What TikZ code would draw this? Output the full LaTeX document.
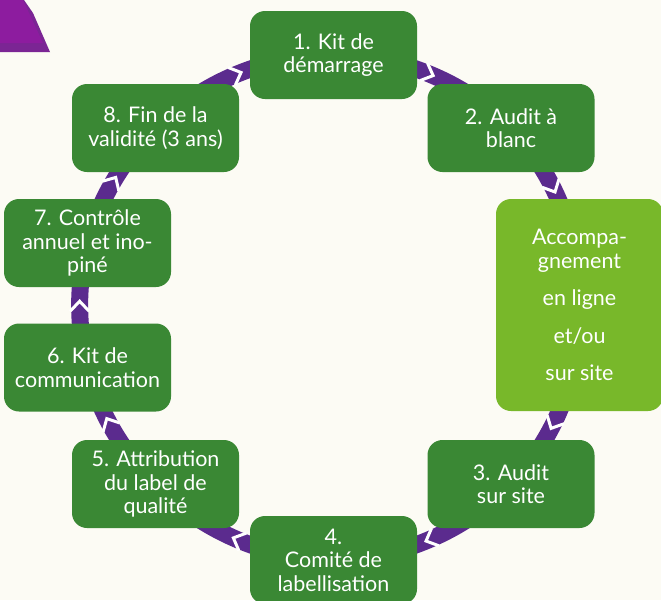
\documentclass[tikz,border=0pt]{standalone}
\usepackage{fontspec}
\setmainfont{Lato}
\usetikzlibrary{decorations.markings}
\definecolor{bgc}{HTML}{FCFBF4}
\definecolor{dkgreen}{HTML}{3A8834}
\definecolor{ltgreen}{HTML}{78B82A}
\definecolor{bandc}{HTML}{5B2B8E}
\definecolor{trimain}{HTML}{8D1C9F}
\definecolor{triedge}{HTML}{7B2594}
\pgfdeclarelayer{bglayer}
\pgfdeclarelayer{links}
\pgfsetlayers{bglayer,links,main}
\tikzset{
  stepbox/.style={rounded corners=15pt, fill=dkgreen, text=white, minimum width=167pt,
    minimum height=88pt, align=center, inner sep=0pt, font=\fontsize{21.5}{23.5}\selectfont},
  accbox/.style={stepbox, fill=ltgreen, minimum height=212pt},
  band/.style={draw=bandc, line width=17pt, looseness=0.88,
    postaction={decorate, decoration={markings,
      mark=at position #1 with {\draw[white, line width=3pt, line cap=butt, line join=miter] (-6,-9.5) -- (4,0) -- (-6,9.5);}}}},
  band/.default=0.5
}
\begin{document}
\begin{tikzpicture}[x=1pt, y=-1pt]
\useasboundingbox (0,0) rectangle (661,600);
\begin{pgfonlayer}{bglayer}
  \fill[bgc] (0,0) rectangle (661,600);
  \fill[triedge] (0,0) -- (24,0) -- (33,13) -- (50,52) -- (0,52) -- cycle;
  \fill[trimain] (0,0) -- (23,0) -- (43,43) -- (0,43) -- cycle;
\end{pgfonlayer}

\node[stepbox] (n1) at (333.5,55) {1. Kit de\\démarrage};
\node[stepbox] (n2) at (511,128) {2. Audit à\\blanc};
\node[accbox] (acc) at (579.5,305) {Accompa-\\gnement\\[14pt]en ligne\\[14pt]et/ou\\[14pt]sur site};
\node[stepbox] (n3) at (511,484) {3. Audit\\sur site};
\node[stepbox] (n4) at (333.5,560) {4.\\Comité de\\labellisation};
\node[stepbox] (n5) at (155.5,484) {5. Attribution\\du label de\\qualité};
\node[stepbox] (n6) at (87.5,367.5) {6. Kit de\\communication};
\node[stepbox] (n7) at (87.5,243) {7. Contrôle\\annuel et ino-\\piné};
\node[stepbox] (n8) at (155.5,128) {8. Fin de la\\validité (3 ans)};

\begin{pgfonlayer}{links}
  \draw[band] (n1.center) to[bend left=22.4] (n2.center);
  \draw[band=0.38] (n2.center) to[bend left=22.4] (acc.center);
  \draw[band=0.63] (acc.center) to[bend left=23] (n3.center);
  \draw[band] (n3.center) to[bend left=22.4] (n4.center);
  \draw[band] (n4.center) to[bend left=22.4] (n5.center);
  \draw[band=0.57] (n5.center) to[bend left=15.8] (n6.center);
  \draw[band] (n6.center) to[bend left=14.2] (n7.center);
  \draw[band] (n7.center) to[bend left=15.3] (n8.center);
  \draw[band] (n8.center) to[bend left=22.4] (n1.center);
\end{pgfonlayer}
\end{tikzpicture}
\end{document}
